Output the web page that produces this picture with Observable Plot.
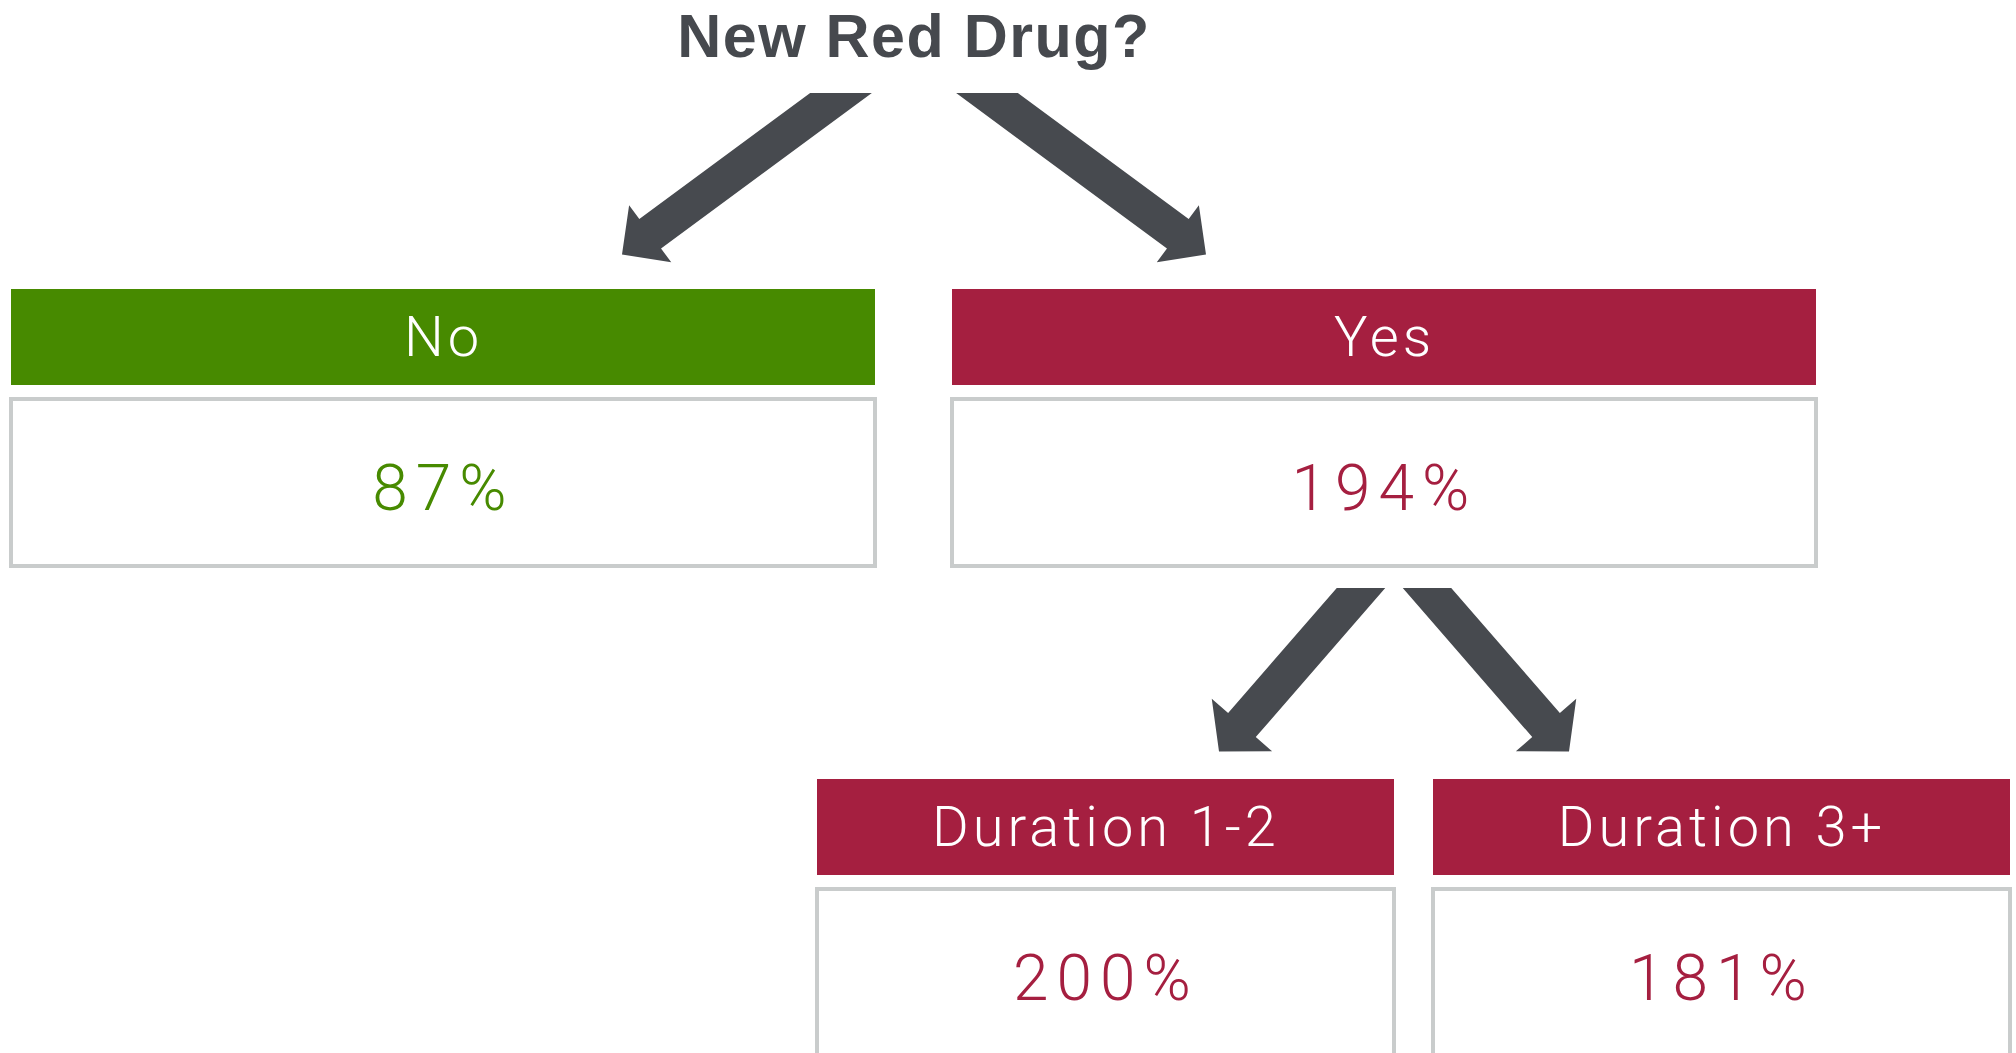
<!DOCTYPE html>
<html>
<head>
<meta charset="utf-8">
<script src="https://cdn.jsdelivr.net/npm/d3@7"></script>
<script src="https://cdn.jsdelivr.net/npm/@observablehq/plot@0.6"></script>
<style>
  html, body { margin: 0; padding: 0; background: #fff; overflow: hidden; }
  #chart svg { display: block; }
</style>
</head>
<body>
<div id="chart"></div>
<script>
// ---------------- data ----------------
const rootLabel   = "New Red Drug?";
const nodeLabels  = ["No", "Yes", "Duration 1-2", "Duration 3+"];
const nodeValues  = [87, 194, 200, 181];            // percent
const nodeParents = [rootLabel, rootLabel, "Yes", "Yes"];
const nodeOutcome = ["No", "Yes", "Yes", "Yes"];     // colour group
const outcomes    = ["No", "Yes"];

// ---------------- layout & style ----------------
const W = 2016, H = 1053;
const outcomeColors = ["#478a00", "#a51f40"];
const arrowColor = "#474a4f";
const titleColor = "#46494e";
const boxStroke = "#c9cccc";
const headerH = 96, boxGap = 14, boxH = 167;
const levelLayout = {
  1: {top: 289, x0: 11,  width: 864, gap: 77},
  2: {top: 779, x0: 817, width: 577, gap: 39}
};
const arrowLayout = {
  1: {tailY: 92.6, tailSpread: 73, tipSpread: 292, tipGap: 35, headHalf: 35.5, shift: 0},
  2: {tailGap: 21.5, tailSpread: 33, tipSpread: 175, tipGap: 28, headHalf: 40, shift: 9.5}
};
const shaftHalf = 18.3, headLen = 35;
const lightFont = "Roboto, Lato, 'Open Sans', 'DejaVu Sans', sans-serif";

// ---------------- build tree ----------------
const depthOf = (label) => label === rootLabel ? 0 : 1 + depthOf(nodeParents[nodeLabels.indexOf(label)]);
const colCount = {};
const nodes = nodeLabels.map((label, i) => {
  const depth = depthOf(label);
  const col = colCount[depth] = (colCount[depth] ?? -1) + 1;
  const L = levelLayout[depth];
  const x1 = L.x0 + col * (L.width + L.gap);
  const x2 = x1 + L.width;
  const hy1 = L.top, hy2 = L.top + headerH;
  const by1 = hy2 + boxGap, by2 = by1 + boxH;
  return {label, value: nodeValues[i], parent: nodeParents[i], outcome: nodeOutcome[i],
          depth, x1, x2, cx: (x1 + x2) / 2, hy1, hy2, by1, by2,
          valueText: nodeValues[i] + "%"};
});
const byLabel = new Map(nodes.map(n => [n.label, n]));
const root = {label: rootLabel, cx: d3.mean(nodes.filter(n => n.depth === 1), n => n.cx), baseline: 56};

// arrow polygons
const arrowPts = [];
nodes.forEach((n, k) => {
  const A = arrowLayout[n.depth];
  let ox, tailY;
  if (n.parent === rootLabel) { ox = root.cx + A.shift; tailY = A.tailY; }
  else { const p = byLabel.get(n.parent); ox = p.cx + A.shift; tailY = p.by2 + A.tailGap; }
  const side = Math.sign(n.cx - ox);
  const T = [ox + side * A.tailSpread, tailY];
  const P = [ox + side * A.tipSpread, n.hy1 - A.tipGap];
  const len = Math.hypot(P[0] - T[0], P[1] - T[1]);
  const d = [(P[0] - T[0]) / len, (P[1] - T[1]) / len];
  const nn = [-d[1], d[0]];
  const B = [P[0] - d[0] * headLen, P[1] - d[1] * headLen];
  const tail = s => {
    const t = -nn[1] * s * shaftHalf / d[1];
    return [T[0] + nn[0] * s * shaftHalf + d[0] * t, T[1] + nn[1] * s * shaftHalf + d[1] * t];
  };
  const off = (pt, s) => [pt[0] + nn[0] * s, pt[1] + nn[1] * s];
  const poly = [tail(1), off(B, shaftHalf), off(B, A.headHalf), P, off(B, -A.headHalf), off(B, -shaftHalf), tail(-1)];
  poly.forEach(([x, y], j) => arrowPts.push({id: k, j, x, y}));
});

// ---------------- plot ----------------
const chart = Plot.plot({
  width: W, height: H, margin: 0,
  x: {domain: [0, W], range: [0, W], axis: null},
  y: {domain: [0, H], range: [0, H], axis: null},
  color: {domain: outcomes, range: outcomeColors},
  style: {background: "#fff"},
  marks: [
    Plot.line(arrowPts, {x: "x", y: "y", z: "id", fill: arrowColor, stroke: "none", curve: "linear-closed"}),
    Plot.rect(nodes, {x1: "x1", x2: "x2", y1: "hy1", y2: "hy2", fill: "outcome"}),
    Plot.rect(nodes, {x1: "x1", x2: "x2", y1: "by1", y2: "by2", fill: "white", stroke: boxStroke, strokeWidth: 4, clip: "frame"}),
    Plot.text([root], {x: "cx", y: "baseline", text: "label", fill: titleColor, fontSize: 61, fontWeight: "bold",
                       fontFamily: "'Liberation Sans', Arial, sans-serif", lineAnchor: "bottom"}),
    Plot.text(nodes, {x: "cx", y: d => d.hy1 + 66, text: "label", fill: "white", fontSize: 56, fontWeight: 300,
                      fontFamily: lightFont, lineAnchor: "bottom"}),
    Plot.text(nodes, {x: "cx", y: d => d.by1 + 110, text: "valueText", fill: "outcome", fontSize: 64, fontWeight: 300,
                      fontFamily: lightFont, lineAnchor: "bottom"})
  ]
});
document.getElementById("chart").appendChild(chart);

// letter spacing: title, header labels, values
const textGroups = chart.querySelectorAll('g[aria-label="text"]');
if (textGroups[0]) textGroups[0].setAttribute("letter-spacing", "1.5px");
if (textGroups[1]) textGroups[1].setAttribute("letter-spacing", "4px");
if (textGroups[2]) textGroups[2].setAttribute("letter-spacing", "8px");
</script>
</body>
</html>
